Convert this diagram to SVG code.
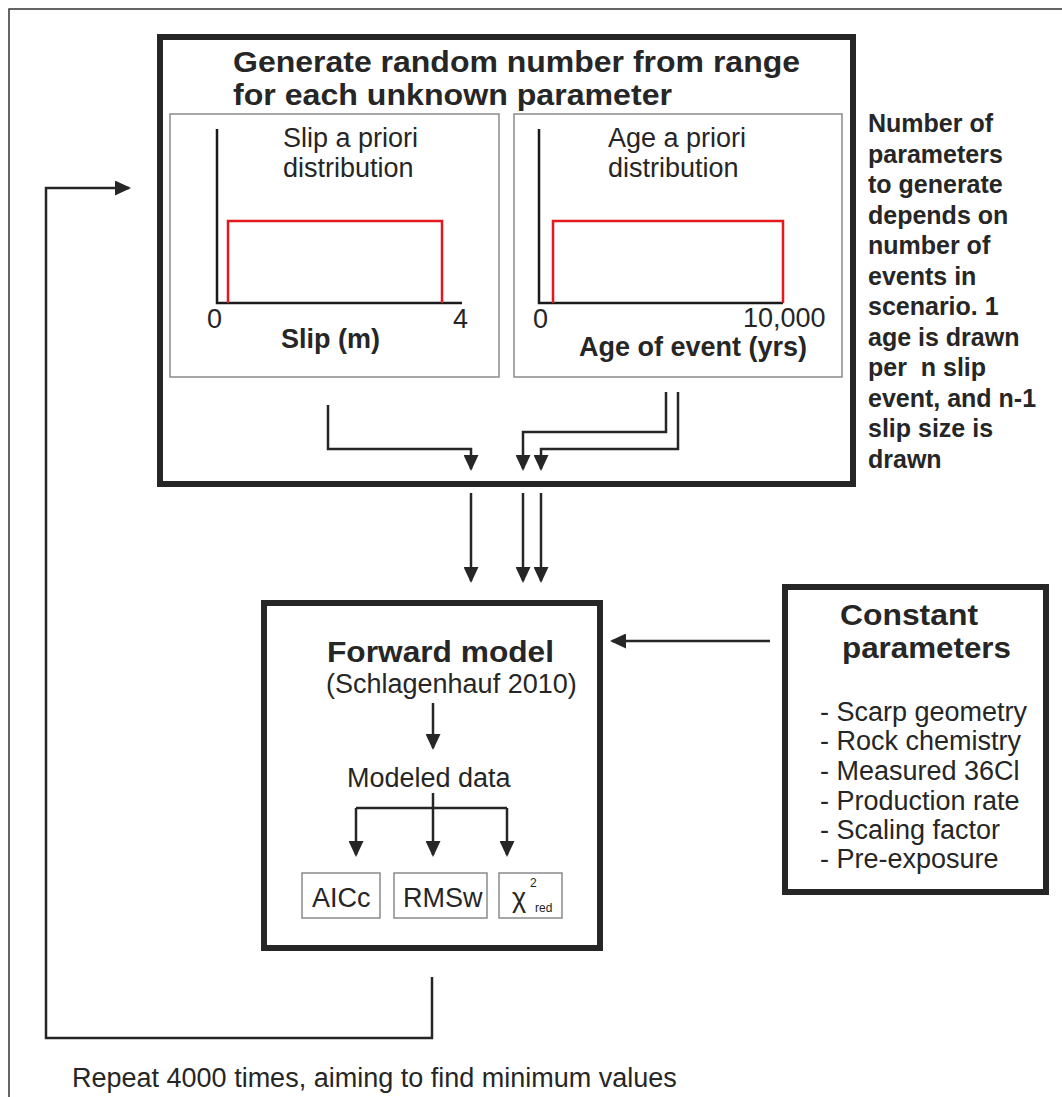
<svg xmlns="http://www.w3.org/2000/svg" width="1062" height="1097" viewBox="0 0 1062 1097">
<style>
.t{font-family:"Liberation Sans",Arial,Helvetica,sans-serif;fill:#262626}
.b{font-weight:bold}
.h{font-size:29px;font-weight:bold}
.s27{font-size:27px}
.s25{font-size:25px}
.s12{font-size:12px}
.heavy{fill:#fff;stroke:#262626;stroke-width:6}
.thin{fill:#fff;stroke:#8a8a8a;stroke-width:1.5}
.ax{fill:none;stroke:#1a1a1a;stroke-width:2.5}
.red{fill:none;stroke:#e3191f;stroke-width:2.5}
.con{fill:none;stroke:#262626;stroke-width:2.5}
.arr{marker-end:url(#ah)}
</style>
<defs>
<marker id="ah" markerUnits="userSpaceOnUse" markerWidth="16" markerHeight="15" refX="14" refY="7.5" orient="auto" viewBox="0 0 16 15">
<path d="M0,0 L16,7.5 L0,15 Z" fill="#262626"/>
</marker>
</defs>
<rect x="0" y="0" width="1062" height="1097" fill="#fff"/>
<g id="frame">
<rect x="9" y="9" width="1100" height="1100" fill="#fff" stroke="#333" stroke-width="1.5"/>
</g>
<g id="generate">
<rect class="heavy" x="160" y="37" width="693" height="447"/>
<text class="t h" x="233" y="72" textLength="567" lengthAdjust="spacingAndGlyphs">Generate random number from range</text>
<text class="t h" x="233" y="105" textLength="439" lengthAdjust="spacingAndGlyphs">for each unknown parameter</text>
</g>
<g id="slip-prior">
<rect class="thin" x="170" y="114" width="329" height="263"/>
<path class="ax" d="M217,129 V303 H462"/>
<path class="red" d="M228,303 V221 H442 V303"/>
<text class="t s27" x="283" y="147">Slip a priori</text>
<text class="t s27" x="283" y="177">distribution</text>
<text class="t s27" x="207" y="328">0</text>
<text class="t s27" x="453" y="328">4</text>
<text class="t b s27" x="281" y="348">Slip (m)</text>
</g>
<g id="age-prior">
<rect class="thin" x="514" y="114" width="328" height="263"/>
<path class="ax" d="M539,129 V303 H783"/>
<path class="red" d="M553,303 V221 H783 V303"/>
<text class="t s27" x="608" y="147">Age a priori</text>
<text class="t s27" x="608" y="177">distribution</text>
<text class="t s27" x="533" y="328">0</text>
<text class="t s27" x="743" y="327">10,000</text>
<text class="t b s27" x="579" y="356">Age of event (yrs)</text>
</g>
<g id="side-note">
<text class="t b s25" x="868" y="132">Number of</text>
<text class="t b s25" x="868" y="162.5">parameters</text>
<text class="t b s25" x="868" y="193">to generate</text>
<text class="t b s25" x="868" y="223.5">depends on</text>
<text class="t b s25" x="868" y="254">number of</text>
<text class="t b s25" x="868" y="284.5">events in</text>
<text class="t b s25" x="868" y="315">scenario. 1</text>
<text class="t b s25" x="868" y="345.5">age is drawn</text>
<text class="t b s25" x="868" y="376" xml:space="preserve">per  n slip</text>
<text class="t b s25" x="868" y="406.5">event, and n-1</text>
<text class="t b s25" x="868" y="437">slip size is</text>
<text class="t b s25" x="868" y="467.5">drawn</text>
</g>
<g id="forward">
<rect class="heavy" x="264" y="603" width="336" height="345"/>
<text class="t h" x="327" y="662" textLength="227" lengthAdjust="spacingAndGlyphs">Forward model</text>
<text class="t s27" x="326" y="693">(Schlagenhauf 2010)</text>
<text class="t s27" x="347" y="787">Modeled data</text>
</g>
<g id="aicc">
<rect class="thin" x="302" y="873" width="78" height="45"/>
<text class="t s27" x="312" y="907">AICc</text>
</g>
<g id="rmsw">
<rect class="thin" x="394" y="873" width="93" height="45"/>
<text class="t s27" x="403" y="907">RMSw</text>
</g>
<g id="chi2">
<rect class="thin" x="499" y="873" width="63" height="45"/>
<text class="t s27" x="512" y="907">χ</text>
<text class="t s12" x="530" y="887">2</text>
<text class="t s12" x="535" y="912">red</text>
</g>
<g id="constant">
<rect class="heavy" x="785" y="587" width="261" height="305"/>
<text class="t h" x="840" y="625" textLength="138" lengthAdjust="spacingAndGlyphs">Constant</text>
<text class="t h" x="842" y="658" textLength="169" lengthAdjust="spacingAndGlyphs">parameters</text>
<text class="t s27" x="820" y="721">- Scarp geometry</text>
<text class="t s27" x="820" y="750">- Rock chemistry</text>
<text class="t s27" x="820" y="780">- Measured 36Cl</text>
<text class="t s27" x="820" y="810">- Production rate</text>
<text class="t s27" x="820" y="839">- Scaling factor</text>
<text class="t s27" x="820" y="868">- Pre-exposure</text>
</g>
<g id="repeat-label">
<text class="t s27" x="72" y="1087">Repeat 4000 times, aiming to find minimum values</text>
</g>
<g id="connectors">
<path class="con arr" d="M328,405 V449 H471 V469"/>
<path class="con arr" d="M666,392 V432 H523 V469"/>
<path class="con arr" d="M678,392 V449 H541 V469"/>
<path class="con arr" d="M471,493 V581"/>
<path class="con arr" d="M523,493 V581"/>
<path class="con arr" d="M541,493 V581"/>
<path class="con arr" d="M770,641 H612"/>
<path class="con arr" d="M433,703 V748"/>
<path class="con arr" d="M433,793 V855"/>
<path class="con" d="M356,808 H507"/>
<path class="con arr" d="M356,808 V855"/>
<path class="con arr" d="M507,808 V855"/>
<path class="con arr" d="M432,977 V1038 H46 V188 H129"/>
</g>
</svg>
